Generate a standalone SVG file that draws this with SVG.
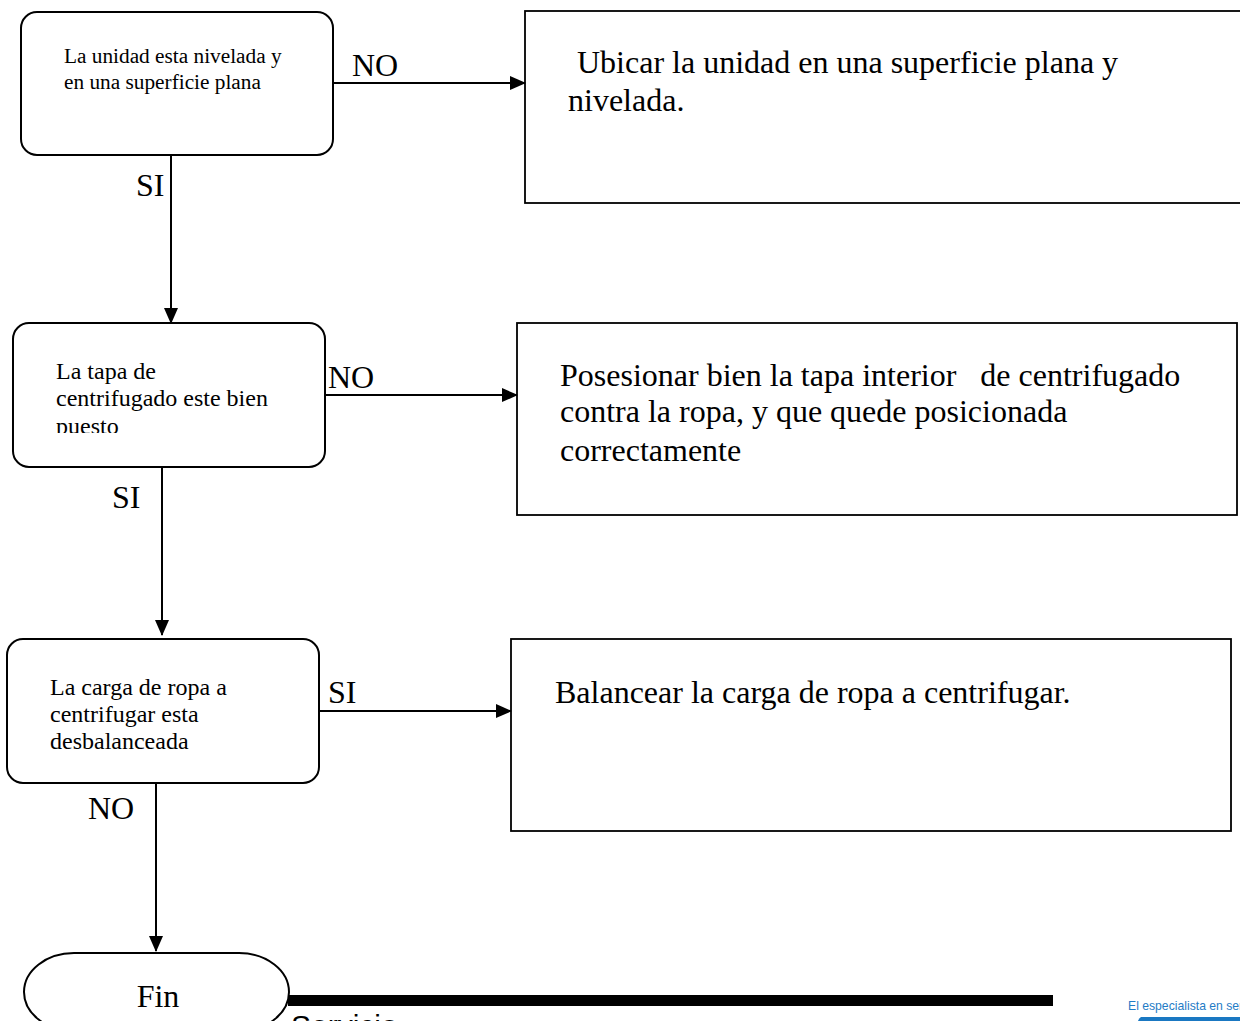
<svg xmlns="http://www.w3.org/2000/svg" width="1240" height="1021" viewBox="0 0 1240 1021">
<style>
.dec{fill:#fff;stroke:#000;stroke-width:2}
.act{fill:#fff;stroke:#000;stroke-width:1.8}
.t{font-family:"Liberation Serif","Times New Roman",serif;fill:#000}
.small{font-size:21.3px}
.mid{font-size:24px}
.big{font-size:32px}
.lbl{font-family:"Liberation Serif","Times New Roman",serif;font-size:32px;fill:#000}
.con{stroke:#000;stroke-width:2;fill:none;marker-end:url(#ah)}
</style>
<defs>
<marker id="ah" markerWidth="16" markerHeight="14" refX="15" refY="7" orient="auto" markerUnits="userSpaceOnUse">
<path d="M0,0 L16,7 L0,14 Z" fill="#000"/>
</marker>
<clipPath id="clip2"><rect x="13" y="323" width="312" height="110"/></clipPath>
</defs>
<rect width="1240" height="1021" fill="#fff"/>

<g id="n1">
<rect class="dec" x="21" y="12" width="312" height="143" rx="16"/>
<text class="t small" x="64" y="63">La unidad esta nivelada y</text>
<text class="t small" x="64" y="89">en una superficie plana</text>
</g>
<g id="a1">
<rect class="act" x="525" y="11" width="730" height="192"/>
<text class="t big" x="577" y="73">Ubicar la unidad en una superficie plana y</text>
<text class="t big" x="568" y="111">nivelada.</text>
</g>
<g id="n2">
<rect class="dec" x="13" y="323" width="312" height="144" rx="16"/>
<g clip-path="url(#clip2)">
<text class="t mid" x="56" y="379">La tapa de</text>
<text class="t mid" x="56" y="406">centrifugado este bien</text>
<text class="t mid" x="56" y="434">puesto</text>
</g>
</g>
<g id="a2">
<rect class="act" x="517" y="323" width="720" height="192"/>
<text class="t big" x="560" y="386" xml:space="preserve">Posesionar bien la tapa interior   de centrifugado</text>
<text class="t big" x="560" y="422">contra la ropa, y que quede posicionada</text>
<text class="t big" x="560" y="461">correctamente</text>
</g>
<g id="n3">
<rect class="dec" x="7" y="639" width="312" height="144" rx="16"/>
<text class="t mid" x="50" y="695">La carga de ropa a</text>
<text class="t mid" x="50" y="722">centrifugar esta</text>
<text class="t mid" x="50" y="749">desbalanceada</text>
</g>
<g id="a3">
<rect class="act" x="511" y="639" width="720" height="192"/>
<text class="t big" x="555" y="703">Balancear la carga de ropa a centrifugar.</text>
</g>
<g id="fin">
<path class="dec" d="M74,953 L239,953 A50,39 0 0 1 239,1031 L74,1031 A50,39 0 0 1 74,953 Z"/>
<text class="t big" x="158" y="1007" text-anchor="middle">Fin</text>
</g>

<g id="connectors">
<line class="con" x1="333" y1="83" x2="525" y2="83"/>
<line class="con" x1="171" y1="155" x2="171" y2="323"/>
<line class="con" x1="325" y1="395" x2="517" y2="395"/>
<line class="con" x1="162" y1="467" x2="162" y2="635"/>
<line class="con" x1="319" y1="711" x2="511" y2="711"/>
<line class="con" x1="156" y1="783" x2="156" y2="951"/>
<text class="lbl" x="352" y="76">NO</text>
<text class="lbl" x="136" y="196">SI</text>
<text class="lbl" x="328" y="388">NO</text>
<text class="lbl" x="112" y="508">SI</text>
<text class="lbl" x="328" y="703">SI</text>
<text class="lbl" x="88" y="819">NO</text>
</g>

<rect x="288" y="995" width="765" height="11" fill="#000"/>
<text x="291" y="1036" font-family="Liberation Sans, Arial, sans-serif" font-size="30" fill="#000">Servicio</text>
<text x="1128" y="1010" font-family="Liberation Sans, Arial, sans-serif" font-size="12.2" fill="#1f7cc6">El especialista en servicio</text>
<path d="M1141,1017 L1240,1017 L1240,1030 L1141,1030 A8,8 0 0 1 1141,1017 Z" fill="#1a78c2"/>
</svg>
